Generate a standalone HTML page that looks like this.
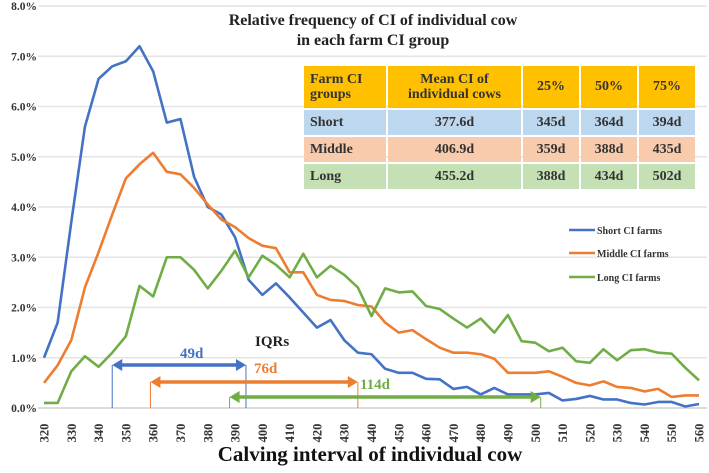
<!DOCTYPE html>
<html><head><meta charset="utf-8"><style>
body{margin:0;background:#fff;font-family:"Liberation Serif",serif;}
svg text{font-family:"Liberation Serif",serif;font-weight:bold;}
#tbl{position:absolute;left:302px;top:64px;border-collapse:separate;border-spacing:2px 2px;font:bold 14px "Liberation Serif",serif;color:#333;}
#tbl td{padding:0;}
</style></head><body>
<svg id="chart" width="709" height="468" xmlns="http://www.w3.org/2000/svg"></svg>
<script>
const categories=[];for(let d=320;d<=560;d+=5)categories.push(d);
const shortCI=[1.0,1.7,3.7,5.6,6.55,6.8,6.9,7.2,6.7,5.68,5.75,4.6,4.0,3.85,3.4,2.55,2.25,2.48,2.2,1.9,1.6,1.75,1.35,1.1,1.07,0.78,0.7,0.7,0.58,0.57,0.38,0.42,0.27,0.4,0.27,0.27,0.27,0.3,0.15,0.18,0.24,0.17,0.17,0.1,0.07,0.12,0.12,0.03,0.08];
const middleCI=[0.5,0.85,1.35,2.4,3.1,3.85,4.57,4.85,5.08,4.7,4.65,4.38,4.05,3.75,3.6,3.38,3.23,3.18,2.7,2.7,2.25,2.15,2.13,2.05,2.02,1.7,1.5,1.55,1.37,1.2,1.1,1.1,1.07,0.98,0.7,0.7,0.7,0.73,0.62,0.5,0.45,0.53,0.42,0.4,0.33,0.38,0.22,0.25,0.25];
const longCI=[0.1,0.1,0.73,1.03,0.82,1.1,1.43,2.43,2.22,3.0,3.0,2.75,2.38,2.73,3.13,2.6,3.03,2.85,2.6,3.07,2.6,2.83,2.65,2.4,1.83,2.38,2.3,2.32,2.03,1.97,1.78,1.6,1.78,1.5,1.85,1.33,1.3,1.13,1.2,0.93,0.9,1.17,0.95,1.15,1.17,1.1,1.08,0.8,0.55];
const yTicks=[0,1,2,3,4,5,6,7,8];
const xTicks=[320,330,340,350,360,370,380,390,400,410,420,430,440,450,460,470,480,490,500,510,520,530,540,550,560];
const iqrShort=[345,394], iqrMiddle=[359,435], iqrLong=[388,502];
const X0=44,X1=699,Y0=408,Y1=6;
const xs=d=>X0+(d-320)/(560-320)*(X1-X0);
const ys=v=>Y0-v/8*(Y0-Y1);
const svg=document.getElementById('chart');const NS='http://www.w3.org/2000/svg';
function mk(t,a,txt){const e=document.createElementNS(NS,t);for(const k in a)e.setAttribute(k,a[k]);if(txt!==undefined)e.textContent=txt;svg.appendChild(e);return e;}
yTicks.forEach(v=>{
 const g=mk('line',{x1:X0-6,x2:X1+8,y1:ys(v),y2:ys(v),stroke:v===0?'#d0d0d0':'#e4e4e4','stroke-width':1.5});
 
 
 const t=mk('text',{x:37,y:ys(v)+4,'text-anchor':'end','font-size':11.5,fill:'#333'},v.toFixed(1)+'%');
 
 
});
xTicks.forEach(d=>{
 const t=mk('text',{transform:`translate(${xs(d)+4.5},${433}) rotate(-90)`,'text-anchor':'middle','font-size':12.5,fill:'#333'},d);
 
 
});
const xt=mk('text',{x:370,y:461,'text-anchor':'middle','font-size':21,fill:'#111'},'Calving interval of individual cow');


const t1=mk('text',{x:373,y:25,'text-anchor':'middle','font-size':16,fill:'#222'},'Relative frequency of CI of individual cow');


const t2=mk('text',{x:373,y:45,'text-anchor':'middle','font-size':16,fill:'#222'},'in each farm CI group');


const series=[[shortCI,'#4472c4','short-ci-line'],[middleCI,'#ed7d31','middle-ci-line'],[longCI,'#70ad47','long-ci-line']];
series.forEach(([arr,c,n])=>{
 const p=mk('polyline',{points:arr.map((v,i)=>xs(categories[i])+','+ys(v)).join(' '),fill:'none',stroke:c,'stroke-width':2.6,'stroke-linejoin':'round'});
 
 
});
[['Short CI farms','#4472c4',230],['Middle CI farms','#ed7d31',253],['Long CI farms','#70ad47',277]].forEach(([l,c,y])=>{
 const ln=mk('line',{x1:569,x2:595,y1:y,y2:y,stroke:c,'stroke-width':2.6});
 
 
 const t=mk('text',{x:597,y:y+4,'font-size':10,fill:'#333'},l);
 
 
});
function arrow(r,y,c,n){
 const a=xs(r[0]),b=xs(r[1]);
 [a,b].forEach(x=>{const v=mk('line',{x1:x,x2:x,y1:y,y2:Y0,stroke:c,'stroke-width':1});
  
  });
 const l=mk('line',{x1:a+8,x2:b-8,y1:y,y2:y,stroke:c,'stroke-width':3.5});
 
 
 const h=mk('path',{d:`M${a},${y} L${a+10},${y-6} L${a+10},${y+6}Z M${b},${y} L${b-10},${y-6} L${b-10},${y+6}Z`,fill:c});
 
 
}
arrow(iqrShort,365,'#4472c4','iqr-short-arrow');
arrow(iqrMiddle,382,'#ed7d31','iqr-middle-arrow');
arrow(iqrLong,397,'#70ad47','iqr-long-arrow');
[['IQRs',255,346,'#222','iqr-label'],['49d',180,358,'#4472c4','iqr-short-label'],['76d',254,373,'#ed7d31','iqr-middle-label'],['114d',360,389,'#70ad47','iqr-long-label']].forEach(([s,x,y,c,n])=>{
 const t=mk('text',{x:x,y:y,'font-size':15,fill:c},s);
 
 
});
</script>
<table id="tbl">
<tr style="background:#ffc000;height:42px"><td style="width:76px;padding-left:6px;line-height:15px">Farm CI<br>groups</td><td style="width:133px;text-align:center;line-height:15px">Mean CI of<br>individual cows</td><td style="width:56px;text-align:center">25%</td><td style="width:56px;text-align:center">50%</td><td style="width:56px;text-align:center">75%</td></tr>
<tr style="background:#bdd7ee;height:25px"><td style="padding-left:6px">Short</td><td style="text-align:center">377.6d</td><td style="text-align:center">345d</td><td style="text-align:center">364d</td><td style="text-align:center">394d</td></tr>
<tr style="background:#f8cbad;height:25px"><td style="padding-left:6px">Middle</td><td style="text-align:center">406.9d</td><td style="text-align:center">359d</td><td style="text-align:center">388d</td><td style="text-align:center">435d</td></tr>
<tr style="background:#c5e0b4;height:25px"><td style="padding-left:6px">Long</td><td style="text-align:center">455.2d</td><td style="text-align:center">388d</td><td style="text-align:center">434d</td><td style="text-align:center">502d</td></tr>
</table>
</body></html>
